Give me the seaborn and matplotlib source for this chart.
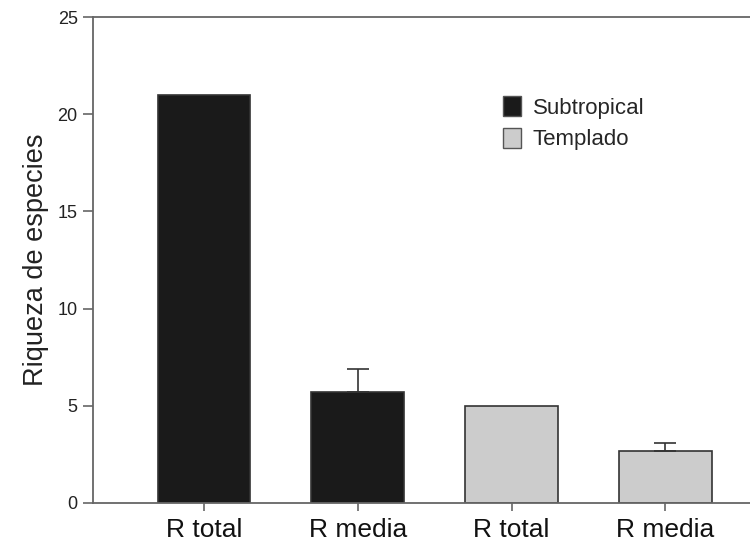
import matplotlib
matplotlib.use("Agg")
import matplotlib.pyplot as plt
import seaborn as sns
import pandas as pd
import numpy as np
from matplotlib.patches import Patch

categories = ["R total", "R media", "R total", "R media"]
groups = ["Subtropical", "Subtropical", "Templado", "Templado"]
values = [21.0, 5.7, 5.0, 2.65]
errors = [0.0, 1.2, 0.0, 0.45]

sns.set_theme(style="white")
plt.rcParams["font.family"] = ["Liberation Sans", "DejaVu Sans"]

df = pd.DataFrame({
    "pos": [f"{g} {c}" for g, c in zip(groups, categories)],
    "Clima": groups,
    "R": values,
})
palette = {"Subtropical": "#1a1a1a", "Templado": "#cccccc"}

fig = plt.figure(figsize=(7.5, 5.46), dpi=100)
ax = fig.add_axes([0.124, 0.0788, 0.876, 0.890])
sns.barplot(data=df, x="pos", y="R", hue="Clima", palette=palette, dodge=False,
            width=0.6, edgecolor="#333333", linewidth=1.2, legend=False, ax=ax)
x = np.arange(len(values))
vals = np.array(values)
errs = np.array(errors)
m = errs > 0
ax.errorbar(x[m], vals[m], yerr=[np.zeros(m.sum()), errs[m]], fmt="none",
            ecolor="#333333", elinewidth=1.2, capsize=8, capthick=1.2)

ax.set_xlim(-0.72, 3.55)
ax.set_ylim(0, 25)
ax.set_yticks([0, 5, 10, 15, 20, 25])
ax.set_xticks(x)
ax.set_xticklabels(categories, fontsize=19, color="#111111")
ax.set_xlabel("")
ax.set_ylabel("Riqueza de especies", fontsize=19.5, color="#222222", labelpad=6)
ax.tick_params(axis="y", labelsize=13, colors="#666666", labelcolor="#222222",
               direction="out", length=7, width=1.2, left=True, pad=4)
ax.tick_params(axis="x", colors="#666666", labelcolor="#111111",
               direction="out", length=6, width=1.2, bottom=True, pad=5)
for s in ["left", "bottom", "top"]:
    ax.spines[s].set_color("#666666")
    ax.spines[s].set_linewidth(1.3)
ax.spines["right"].set_visible(False)

handles = [Patch(facecolor=palette[g], edgecolor="#555555", label=g) for g in ["Subtropical", "Templado"]]
ax.legend(handles=handles, loc="upper left", bbox_to_anchor=(0.607, 0.86), frameon=False,
          fontsize=16, handlelength=0.8, handleheight=1.0, handletextpad=0.55,
          labelspacing=0.4, borderpad=0)

fig.savefig("out.png", dpi=100)
